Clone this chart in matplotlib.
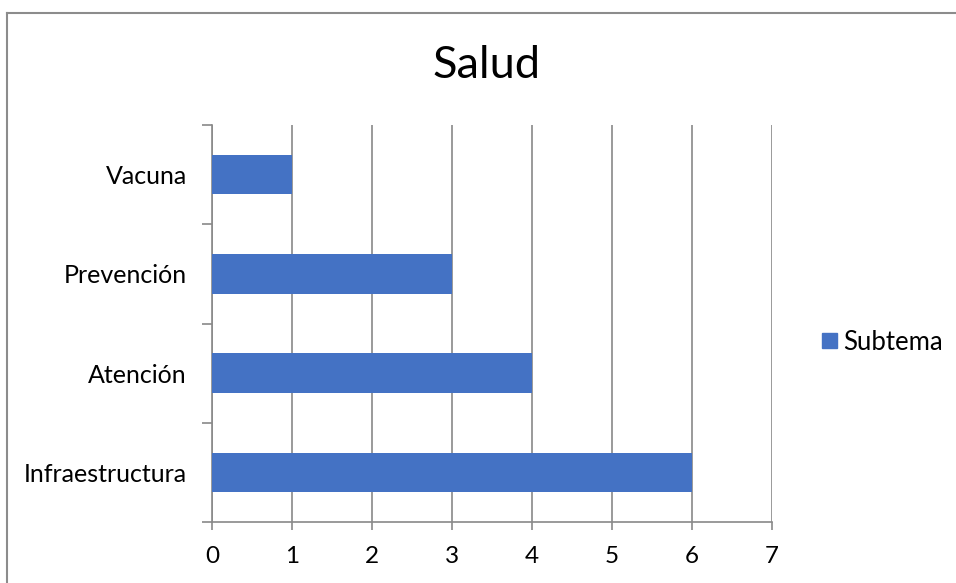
import matplotlib
matplotlib.use("Agg")
import matplotlib.pyplot as plt
from matplotlib.patches import Rectangle
from matplotlib.lines import Line2D

categories = ["Infraestructura", "Atención", "Prevención", "Vacuna"]
values = [6, 4, 3, 1]
series_name = "Subtema"
title = "Salud"
xticks = [0, 1, 2, 3, 4, 5, 6, 7]

plt.rcParams['font.family'] = ['Lato', 'DejaVu Sans']

W, H = 956, 583
fig = plt.figure(figsize=(W / 100, H / 100), dpi=100)
fig.patch.set_facecolor('white')

# outer chart border (top & left visible)
fig.add_artist(Line2D([6.5 / W, 6.5 / W], [0, 1 - 12.5 / H], transform=fig.transFigure,
                      color='#8c8c8c', lw=1.5))
fig.add_artist(Line2D([6.5 / W, 1], [1 - 12.5 / H, 1 - 12.5 / H], transform=fig.transFigure,
                      color='#8c8c8c', lw=1.5))

ax = fig.add_axes([212 / W, (H - 522) / H, (772 - 212) / W, (522 - 125) / H])
gray = '#898989'
ypos = list(range(len(categories)))
bars = ax.barh(ypos, values, height=0.4, color='#4472C4', label=series_name, zorder=3)

ax.set_xlim(0, 7)
ax.set_ylim(-0.5, len(categories) - 0.5)
ax.set_xticks(xticks)
ax.set_xticklabels([str(t) for t in xticks])
ax.set_yticks(ypos)
ax.set_yticklabels(categories)
ax.set_yticks([y - 0.5 for y in range(len(categories) + 1)], minor=True)

for s in ['top', 'right']:
    ax.spines[s].set_visible(False)
for s in ['left', 'bottom']:
    ax.spines[s].set_color(gray)
    ax.spines[s].set_linewidth(1.2)

ax.xaxis.grid(True, color=gray, lw=1.2, zorder=0)
ax.tick_params(axis='x', direction='out', length=6, width=1.2, color=gray,
               labelsize=17.5, pad=11, labelcolor='black')
ax.tick_params(axis='y', which='major', length=0, labelsize=18, pad=18, labelcolor='black')
ax.tick_params(axis='y', which='minor', direction='out', length=7, width=1.2, color=gray)

fig.text(487 / W, 1 - 65 / H, title, ha='center', va='center', fontsize=32.5, color='black')

leg = ax.legend(handles=[Rectangle((0, 0), 1, 1, color='#4472C4')], labels=[series_name],
                loc='center left', bbox_to_anchor=(812 / W, 1 - 342 / H),
                bbox_transform=fig.transFigure, frameon=False, fontsize=18.5,
                borderaxespad=0, handlelength=0.56, handleheight=0.56, handletextpad=0.25)

fig.savefig("out.png", dpi=100)
